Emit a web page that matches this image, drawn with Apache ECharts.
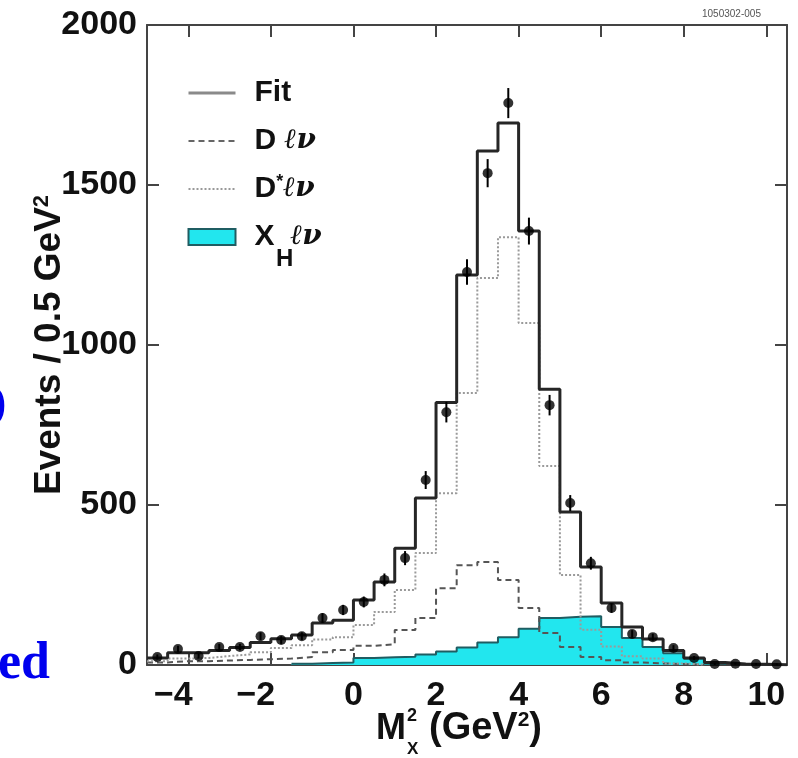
<!DOCTYPE html>
<html>
<head>
<meta charset="utf-8">
<script src="https://cdn.jsdelivr.net/npm/echarts@6/dist/echarts.min.js"></script>
<style>
  html, body { margin: 0; padding: 0; background: #fff; }
  #chart { width: 798px; height: 758px; }
</style>
</head>
<body>
<div id="chart"></div>
<script>
// bins of 0.5 GeV^2, low edges
const binLow = [-5, -4.5, -4, -3.5, -3, -2.5, -2, -1.5, -1, -0.5, 0, 0.5, 1, 1.5, 2, 2.5, 3, 3.5, 4, 4.5, 5, 5.5, 6, 6.5, 7, 7.5, 8, 8.5, 9, 9.5, 10]
const binWidth = 0.5

// data points and their errors
const dataCounts = [25, 50, 28, 56, 56, 90, 78, 90, 147, 172, 197, 266, 334, 578, 790, 1228, 1537, 1756, 1356, 812, 506, 318, 178, 97, 87, 53, 22, 3, 4, 3, 2]
const dataErrors = [8, 10, 8, 10, 10, 12, 12, 12, 15, 16, 17, 20, 22, 28, 32, 40, 44, 47, 42, 32, 25, 20, 15, 12, 11, 9, 6, 3, 3, 3, 3]

// fit components
const fitValues = [22, 38, 38, 45, 55, 70, 82, 94, 131, 140, 203, 259, 365, 522, 820, 1219, 1606, 1694, 1356, 862, 478, 306, 194, 119, 81, 45, 22, 8, 3, 2, 1]
const dlnuValues = [8, 12, 12, 14, 16, 18, 20, 25, 40, 47, 60, 65, 109, 147, 240, 312, 322, 266, 178, 100, 56, 25, 15, 8, 5, 3, 1, null, null, null, null]
const dstarValues = [12, 20, 22, 28, 33, 40, 53, 62, 80, 87, 125, 166, 234, 350, 537, 850, 1209, 1337, 1069, 622, 281, 110, 58, 27, 20, 5, 1, null, null, null, null]
const xhValues = [null, null, null, null, null, null, null, 4, 6, 8, 22, 24, 26, 33, 42, 55, 70, 87, 113, 147, 151, 152, 119, 84, 56, 37, 20, 5, null, null, null]

const xTicks = [-4, -2, 0, 2, 4, 6, 8, 10]

const legendLabels = {
  'Fit': 'Fit',
  'D ℓν': 'D {it|ℓν}',
  'D*ℓν': 'D{sup|*}{it|ℓν}',
  'XHℓν': 'X{hid|H}{it|ℓν}'
}

const sans = '"Liberation Sans", Arial, sans-serif'
const cyan = '#22e6ee'

// turn bin values into step points (left edge + closing edge)
const histLine = (values, dropEnd) => {
  const pts = []
  let last = -1
  values.forEach((v, i) => {
    if (v !== null) {
      pts.push([binLow[i], v])
      last = i
    }
  })
  pts.push([binLow[last] + binWidth, values[last]])
  if (dropEnd) pts.push([binLow[last] + binWidth, 0])
  return pts
}

const chart = echarts.init(document.getElementById('chart'))

const frameLine = { show: true, onZero: false, lineStyle: { color: '#444', width: 2 } }
const tickIn = { show: true, inside: true, length: 12, lineStyle: { color: '#444', width: 2 } }
const noSymbol = { opacity: 0 }

const option = {
  animation: false,
  backgroundColor: '#fff',
  grid: { left: 147, right: 11, top: 25, bottom: 93 },
  legend: {
    orient: 'vertical',
    left: 182,
    top: 72,
    itemWidth: 47,
    itemHeight: 16,
    itemGap: 16,
    selectedMode: false,
    data: [
      { name: 'Fit', itemStyle: noSymbol, lineStyle: { color: '#8a8a8a', width: 3 } },
      { name: 'D ℓν', itemStyle: noSymbol, lineStyle: { color: '#666', width: 2 } },
      { name: 'D*ℓν', itemStyle: noSymbol, lineStyle: { color: '#999', width: 2 } },
      { name: 'XHℓν', icon: 'rect', itemStyle: { color: cyan, borderColor: '#1f5d62', borderWidth: 2 } }
    ],
    formatter: name => legendLabels[name],
    textStyle: {
      fontFamily: sans,
      fontSize: 30,
      fontWeight: 'bold',
      color: '#111',
      lineHeight: 32,
      padding: [0, 0, 0, 14],
      rich: {
        it: { fontFamily: '"DejaVu Serif", serif', fontStyle: 'italic', fontWeight: 'bold', fontSize: 28, color: '#111' },
        sup: { fontFamily: sans, fontWeight: 'bold', fontSize: 18, color: '#111', verticalAlign: 'top', padding: [0, 0, 10, 0] },
        hid: { fontFamily: sans, fontWeight: 'bold', fontSize: 22, color: 'rgba(0,0,0,0)' }
      }
    }
  },
  xAxis: [
    {
      type: 'value',
      min: -5,
      max: 10.5,
      position: 'bottom',
      axisLine: frameLine,
      axisTick: Object.assign({ customValues: xTicks }, tickIn),
      splitLine: { show: false },
      axisLabel: {
        customValues: xTicks,
        margin: 14,
        color: '#111',
        fontFamily: sans,
        fontSize: 34,
        fontWeight: 'bold',
        formatter: v => (v < 0 ? '{neg|\u2212' + Math.abs(v) + '}' : String(v)),
        rich: {
          neg: { fontFamily: sans, fontSize: 34, fontWeight: 'bold', color: '#111', padding: [0, 30, 0, 0] }
        }
      }
    },
    {
      type: 'value',
      min: -5,
      max: 10.5,
      position: 'top',
      axisLine: frameLine,
      axisTick: Object.assign({ customValues: xTicks }, tickIn),
      axisLabel: { show: false },
      splitLine: { show: false }
    }
  ],
  yAxis: [
    {
      type: 'value',
      min: 0,
      max: 2000,
      interval: 500,
      position: 'left',
      axisLine: frameLine,
      axisTick: tickIn,
      splitLine: { show: false },
      axisLabel: {
        margin: 10,
        color: '#111',
        fontFamily: sans,
        fontSize: 34,
        fontWeight: 'bold',
        showMinLabel: true,
        showMaxLabel: true,
        formatter: v => String(v)
      },
      name: 'Events / 0.5 GeV{sup|2}',
      nameLocation: 'middle',
      nameGap: 78,
      nameMoveOverlap: false,
      nameTextStyle: {
        fontFamily: sans,
        fontSize: 37,
        fontWeight: 'bold',
        color: '#111',
        rich: {
          sup: { fontFamily: sans, fontSize: 22, fontWeight: 'bold', color: '#111', verticalAlign: 'top', padding: [0, 0, 16, 0] }
        }
      }
    },
    {
      type: 'value',
      min: 0,
      max: 2000,
      interval: 500,
      position: 'right',
      axisLine: frameLine,
      axisTick: tickIn,
      axisLabel: { show: false },
      splitLine: { show: false }
    }
  ],
  series: [
    {
      name: 'XHℓν',
      type: 'line',
      step: 'end',
      symbol: 'none',
      z: 1,
      data: histLine(xhValues, true),
      lineStyle: { color: '#1f5d62', width: 2 },
      itemStyle: { color: cyan },
      areaStyle: { color: cyan, opacity: 1 }
    },
    {
      name: 'D ℓν',
      type: 'line',
      step: 'end',
      symbol: 'none',
      z: 2,
      data: histLine(dlnuValues, true),
      lineStyle: { color: '#555', width: 2, type: [6, 4] }
    },
    {
      name: 'D*ℓν',
      type: 'line',
      step: 'end',
      symbol: 'none',
      z: 3,
      data: histLine(dstarValues, true),
      lineStyle: { color: '#9a9a9a', width: 2, type: [2, 2] }
    },
    {
      name: 'Fit',
      type: 'line',
      step: 'end',
      symbol: 'none',
      z: 4,
      data: histLine(fitValues, false),
      lineStyle: { color: '#262626', width: 3 }
    },
    {
      name: 'errors',
      type: 'custom',
      z: 5,
      data: binLow.map((b, i) => [b + binWidth / 2, dataCounts[i], dataErrors[i]]),
      renderItem: (params, api) => {
        const x = api.value(0)
        const y = api.value(1)
        const e = api.value(2)
        const p1 = api.coord([x, y - e])
        const p2 = api.coord([x, y + e])
        return {
          type: 'line',
          shape: { x1: p1[0], y1: p1[1], x2: p2[0], y2: p2[1] },
          style: { stroke: '#000', lineWidth: 2 }
        }
      }
    },
    {
      name: 'Data',
      type: 'scatter',
      z: 6,
      symbol: 'circle',
      symbolSize: 10,
      itemStyle: { color: '#000' },
      data: binLow.map((b, i) => [b + binWidth / 2, dataCounts[i]])
    }
  ],
  graphic: [
    {
      type: 'text',
      x: 702,
      y: 14,
      style: { text: '1050302-005', font: '10px ' + sans, fill: '#555', verticalAlign: 'middle' }
    },
    // subscript H of the legend entry X_H
    {
      type: 'text',
      x: 276,
      y: 259,
      z: 10,
      style: { text: 'H', font: 'bold 24px ' + sans, fill: '#111', verticalAlign: 'middle' }
    },
    {
      type: 'text',
      x: 376,
      y: 729,
      style: { text: 'M', font: 'bold 36px ' + sans, fill: '#111', verticalAlign: 'middle' }
    },
    {
      type: 'text',
      x: 407,
      y: 716,
      style: { text: '2', font: 'bold 18px ' + sans, fill: '#111', verticalAlign: 'middle' }
    },
    {
      type: 'text',
      x: 407,
      y: 749,
      style: { text: 'X', font: 'bold 17px ' + sans, fill: '#111', verticalAlign: 'middle' }
    },
    {
      type: 'text',
      x: 429,
      y: 729,
      style: {
        text: '(GeV{sup|2})',
        font: 'bold 38px ' + sans,
        fill: '#111',
        verticalAlign: 'middle',
        rich: {
          sup: { fontFamily: sans, fontWeight: 'bold', fontSize: 21, fill: '#111', verticalAlign: 'top', padding: [0, 0, 14, 0] }
        }
      }
    },
    {
      type: 'text',
      x: -9,
      y: 405,
      style: { text: ')', font: 'bold 46px "Liberation Serif", serif', fill: '#0000ee', verticalAlign: 'middle' }
    },
    {
      type: 'text',
      x: -2,
      y: 665,
      style: { text: 'ed', font: 'bold 52px "Liberation Serif", serif', fill: '#0000ee', verticalAlign: 'middle' }
    }
  ]
}

chart.setOption(option)
</script>
</body>
</html>
